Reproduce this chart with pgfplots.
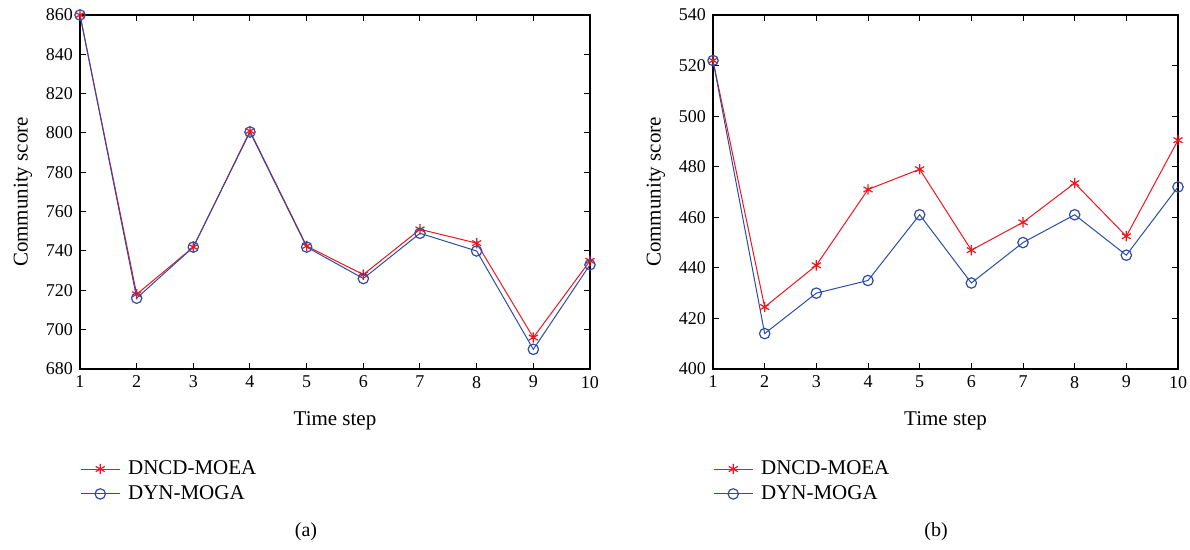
\documentclass[border=0pt]{standalone}
\usepackage{fontspec}
\setmainfont{Liberation Serif}
\usepackage{pgfplots}
\pgfplotsset{compat=1.18}
\definecolor{cred}{HTML}{F0141E}
\definecolor{cblue}{HTML}{2D4CA8}
\pgfplotsset{
  panel/.style={
    scale only axis, width=255pt, height=177pt,
    xmin=1, xmax=10, xtick={1,...,10},
    tick align=inside, tick pos=both,
    major tick length=3pt,
    axis line style={line width=0.6pt},
    tick style={line width=0.5pt, black},
    /pgf/number format/assume math mode=true,
    ticklabel style={font=\fontsize{9}{10}\selectfont},
    label style={font=\fontsize{10.5}{12}\selectfont},
    xlabel={Time step}, ylabel={Community score},
    xlabel style={yshift=-5pt},
    ylabel style={yshift=0pt},
    legend style={draw=none, fill=none, font=\fontsize{10.5}{12}\selectfont,
                  anchor=north west, at={(0,-0.235)}, row sep=0pt,
                  inner xsep=0pt, nodes={inner ysep=2pt, inner xsep=4pt}},
    legend cell align=left,
    legend image code/.code={
      \draw[mark repeat=2, mark phase=2] plot coordinates {(0cm,0cm) (0.34cm,0cm) (0.68cm,0cm)};
    },
  },
  dncd/.style={color=cred, line width=0.5pt, mark=asterisk, mark size=2.6pt,
               mark options={line width=0.6pt}},
  dyn/.style={color=cblue, line width=0.5pt, mark=o, mark size=2.6pt,
              mark options={line width=0.6pt}},
}
\begin{document}
\begin{tikzpicture}
\path[use as bounding box] (0,0) rectangle (595pt,275pt);
\begin{axis}[panel, at={(40pt,90.5pt)}, anchor=south west,
  ymin=680, ymax=860, ytick={680,700,...,860}]
\addplot[dncd] coordinates {(1,860) (2,718) (3,742) (4,801) (5,742.5) (6,728) (7,751) (8,744) (9,696) (10,735)};
\addplot[dyn] coordinates {(1,860) (2,716) (3,742) (4,800.5) (5,742) (6,726) (7,749) (8,740) (9,690) (10,733)};
\legend{DNCD-MOEA, DYN-MOGA}
\end{axis}
\begin{axis}[panel, width=232.5pt, at={(356.5pt,90.5pt)}, anchor=south west,
  ymin=400, ymax=540, ytick={400,420,...,540}]
\addplot[dncd] coordinates {(1,522) (2,424.5) (3,441) (4,471) (5,479) (6,447) (7,458) (8,473.5) (9,452.5) (10,490.5)};
\addplot[dyn] coordinates {(1,522) (2,414) (3,430) (4,435) (5,461) (6,434) (7,450) (8,461) (9,445) (10,472)};
\legend{DNCD-MOEA, DYN-MOGA}
\end{axis}
\node[font=\fontsize{10}{11}\selectfont] at (153pt,9pt) {(a)};
\node[font=\fontsize{10}{11}\selectfont] at (468pt,9pt) {(b)};
\end{tikzpicture}
\end{document}
